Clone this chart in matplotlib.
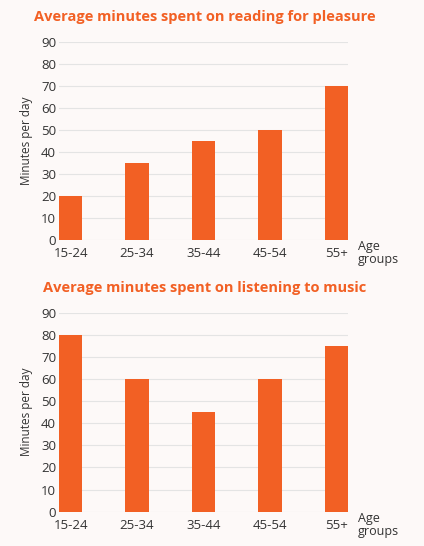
import matplotlib.pyplot as plt
import numpy as np

AGE_GROUPS = ["15-24", "25-34", "35-44", "45-54", "55+"]
READING = [20, 35, 45, 50, 70]
MUSIC = [80, 60, 45, 60, 75]
Y_TICKS = [0, 10, 20, 30, 40, 50, 60, 70, 80, 90]

TITLES = [
    "Average minutes spent on reading for pleasure",
    "Average minutes spent on listening to music",
]

BAR_COLOR = "#f26024"
BG = "#fdf9f8"
TEXT = "#333333"

plt.rcParams['font.family'] = ['Open Sans', 'DejaVu Sans']

fig = plt.figure(figsize=(4.24, 5.46), dpi=100, facecolor=BG)

# axes rectangles in figure coords (left, bottom, width, height)
rects = [
    (0.139, 0.5604, 0.682, 0.3632),
    (0.139, 0.0628, 0.682, 0.3645),
]
title_y = [0.968, 0.473]

for rect, values, title, ty in zip(rects, [READING, MUSIC], TITLES, title_y):
    ax = fig.add_axes(rect)
    ax.set_facecolor(BG)
    x = np.arange(len(AGE_GROUPS))
    w = 0.35
    ax.bar(x, values, width=w, color=BAR_COLOR, zorder=3)
    ax.set_xlim(-w / 2, len(AGE_GROUPS) - 1 + w / 2)
    ax.set_ylim(0, 90)
    ax.set_yticks(Y_TICKS)
    ax.set_xticks(x)
    ax.set_xticklabels(AGE_GROUPS)
    ax.tick_params(axis='both', length=0, labelsize=9.5, colors=TEXT)
    ax.tick_params(axis='y', pad=2)
    ax.tick_params(axis='x', pad=5)
    ax.grid(axis='y', color="#e4e4e4", linewidth=0.8, zorder=0)
    for s in ax.spines.values():
        s.set_visible(False)
    ax.set_ylabel("Minutes per day", fontsize=8.5, color=TEXT, labelpad=6)
    ax.text(1.035, 0.0, "Age\ngroups", transform=ax.transAxes, fontsize=9,
            color=TEXT, va='top', ha='left', linespacing=1.0)
    fig.text(0.482, ty, title, ha='center', va='center', fontsize=10.5,
             fontweight='bold', color=BAR_COLOR)

fig.savefig("out.png", dpi=100, facecolor=BG)
